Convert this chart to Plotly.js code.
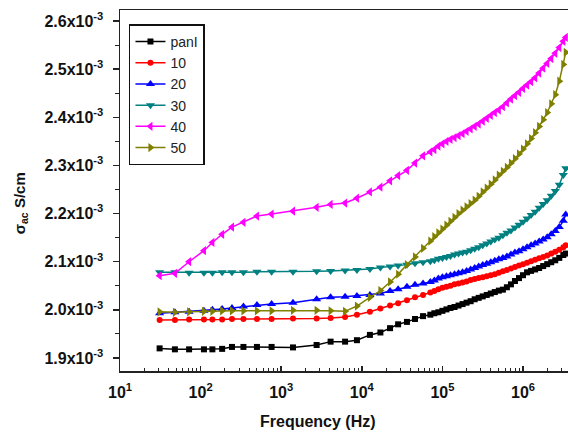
<!DOCTYPE html>
<html>
<head>
<meta charset="utf-8">
<script src="https://cdn.plot.ly/plotly-3.0.1.min.js"></script>
<style>html,body{margin:0;padding:0;background:#fff;}#chart{width:568px;height:435px;}</style>
</head>
<body>
<div id="chart"></div>
<script>
// Frequency (Hz)
const freq = [31, 48, 72, 110, 140, 185, 245, 340, 500, 760, 1400, 2750, 4100, 6200, 8700, 12600, 17000, 22400, 28200, 36300, 45700, 57500,
  70800, 79400, 89100, 100000, 112200, 125900, 141300, 158500, 177800, 199500, 223900, 251200, 281800, 316200, 354800, 398100, 446700,
  501200, 562300, 631000, 707900, 794300, 891300, 1000000, 1122000, 1259000, 1413000, 1585000, 1778000, 1995000, 2239000, 2512000,
  2818000, 3162000, 3388000];

// sigma_ac values in units of 1e-3 S/cm
const pani = [1.920, 1.918, 1.918, 1.918, 1.918, 1.919, 1.923, 1.923, 1.923, 1.923, 1.922, 1.927, 1.934, 1.934, 1.937, 1.948, 1.953, 1.962, 1.970, 1.975, 1.981, 1.987,
  1.990, 1.993, 1.995, 1.998, 2.001, 2.004, 2.006, 2.009, 2.012, 2.015, 2.018, 2.022, 2.025, 2.028, 2.031, 2.034, 2.037,
  2.040, 2.042, 2.047, 2.053, 2.060, 2.066, 2.072, 2.078, 2.081, 2.084, 2.087, 2.091, 2.095, 2.099, 2.103,
  2.108, 2.114, 2.117];
const s10 = [1.979, 1.979, 1.980, 1.980, 1.980, 1.980, 1.981, 1.981, 1.981, 1.981, 1.982, 1.982, 1.983, 1.985, 1.990, 1.996, 2.003, 2.009, 2.014, 2.020, 2.026, 2.031,
  2.036, 2.039, 2.043, 2.046, 2.048, 2.050, 2.053, 2.055, 2.057, 2.059, 2.062, 2.064, 2.066, 2.068, 2.070, 2.072, 2.074,
  2.077, 2.080, 2.083, 2.086, 2.089, 2.092, 2.095, 2.098, 2.101, 2.104, 2.107, 2.110, 2.113, 2.117, 2.121,
  2.125, 2.130, 2.134];
const s20 = [1.993, 1.995, 1.996, 1.998, 2.000, 2.002, 2.004, 2.007, 2.010, 2.012, 2.015, 2.022, 2.026, 2.027, 2.029, 2.031, 2.034, 2.039, 2.043, 2.048, 2.052, 2.055,
  2.058, 2.061, 2.065, 2.068, 2.070, 2.072, 2.074, 2.076, 2.078, 2.081, 2.084, 2.087, 2.090, 2.093, 2.096, 2.099, 2.102,
  2.105, 2.108, 2.111, 2.115, 2.119, 2.122, 2.126, 2.130, 2.134, 2.138, 2.142, 2.146, 2.151, 2.157, 2.164,
  2.172, 2.185, 2.198];
const s30 = [2.078, 2.078, 2.077, 2.077, 2.077, 2.078, 2.078, 2.078, 2.079, 2.079, 2.079, 2.080, 2.081, 2.082, 2.083, 2.085, 2.088, 2.090, 2.092, 2.094, 2.097, 2.099,
  2.101, 2.103, 2.106, 2.108, 2.110, 2.112, 2.115, 2.117, 2.119, 2.121, 2.124, 2.127, 2.130, 2.134, 2.138, 2.142, 2.146,
  2.150, 2.155, 2.160, 2.165, 2.171, 2.177, 2.183, 2.190, 2.197, 2.204, 2.212, 2.220, 2.228, 2.237, 2.247,
  2.260, 2.280, 2.294];
const s40 = [2.071, 2.076, 2.100, 2.123, 2.140, 2.157, 2.172, 2.182, 2.195, 2.199, 2.205, 2.213, 2.219, 2.222, 2.232, 2.245, 2.255, 2.268, 2.279, 2.290, 2.305, 2.320,
  2.328, 2.333, 2.340, 2.345, 2.350, 2.354, 2.358, 2.362, 2.366, 2.371, 2.376, 2.381, 2.386, 2.392, 2.398, 2.404, 2.410,
  2.415, 2.422, 2.430, 2.438, 2.445, 2.452, 2.460, 2.467, 2.474, 2.482, 2.492, 2.502, 2.512, 2.522, 2.533,
  2.545, 2.558, 2.566];
const s50 = [1.996, 1.995, 1.996, 1.997, 1.997, 1.998, 1.998, 1.998, 1.998, 1.998, 1.999, 1.999, 1.998, 1.997, 2.008, 2.026, 2.040, 2.058, 2.074, 2.094, 2.110, 2.128,
  2.143, 2.152, 2.160, 2.168, 2.176, 2.184, 2.192, 2.200, 2.207, 2.214, 2.221, 2.228, 2.236, 2.245, 2.253, 2.261, 2.270,
  2.280, 2.288, 2.296, 2.305, 2.314, 2.324, 2.334, 2.345, 2.356, 2.368, 2.381, 2.395, 2.410, 2.428, 2.447,
  2.475, 2.510, 2.535];

const seriesNames = ['panI', '10', '20', '30', '40', '50'];
const seriesData = [pani, s10, s20, s30, s40, s50];
const seriesColors = ['#000000', '#ff0000', '#0000ff', '#008080', '#ff00ff', '#808000'];
const seriesSymbols = ['square', 'circle', 'triangle-up', 'triangle-down', 'triangle-left', 'triangle-right'];

const yTickVals = [1.9, 2.0, 2.1, 2.2, 2.3, 2.4, 2.5, 2.6];
const yTickText = ['1.9x10<sup>-3</sup>', '2.0x10<sup>-3</sup>', '2.1x10<sup>-3</sup>', '2.2x10<sup>-3</sup>',
  '2.3x10<sup>-3</sup>', '2.4x10<sup>-3</sup>', '2.5x10<sup>-3</sup>', '2.6x10<sup>-3</sup>'];
const xTickVals = [10, 100, 1000, 10000, 100000, 1000000];
const xTickText = ['10<sup>1</sup>', '10<sup>2</sup>', '10<sup>3</sup>', '10<sup>4</sup>', '10<sup>5</sup>', '10<sup>6</sup>'];

const traces = seriesData.map((ys, i) => ({
  x: freq,
  y: ys,
  name: seriesNames[i],
  type: 'scatter',
  mode: 'lines+markers',
  line: {color: seriesColors[i], width: 1.5},
  marker: {color: seriesColors[i], symbol: seriesSymbols[i], size: (seriesSymbols[i] === 'square' || seriesSymbols[i] === 'circle') ? 6 : 8}
}));

const fam = 'Liberation Sans, Arial, sans-serif';

const layout = {
  width: 568, height: 435,
  margin: {l: 120, r: 0, t: 10, b: 64},
  paper_bgcolor: '#fff', plot_bgcolor: '#fff',
  showlegend: true,
  legend: {
    x: 0.02, y: 0.96, xanchor: 'left', yanchor: 'top',
    bgcolor: '#fff', bordercolor: '#111', borderwidth: 1.5,
    font: {family: fam, size: 14, color: '#222'},
    tracegroupgap: 0,
    entrywidth: 52, entrywidthmode: 'pixels'
  },
  xaxis: {
    type: 'log', range: [1, 6.558],
    tickvals: xTickVals, ticktext: xTickText,
    ticks: 'inside', ticklen: 5, tickwidth: 1.5, tickcolor: '#222',
    minor: {ticks: 'inside', ticklen: 3, tickwidth: 1, tickcolor: '#222', dtick: 'D1'},
    showline: true, linecolor: '#222', linewidth: 1.5, mirror: true,
    showgrid: false, zeroline: false,
    ticklabelstandoff: 6,
    tickfont: {family: fam, size: 16, color: '#111', weight: 'bold'}
  },
  yaxis: {
    range: [1.873, 2.623],
    tickvals: yTickVals, ticktext: yTickText,
    ticks: 'outside', ticklen: 6, tickwidth: 1.5, tickcolor: '#222',
    minor: {ticks: 'outside', ticklen: 4, tickwidth: 1, tickcolor: '#222', dtick: 0.05},
    showline: true, linecolor: '#222', linewidth: 1.5,
    showgrid: false, zeroline: false,
    ticklabelstandoff: 6,
    tickfont: {family: fam, size: 16, color: '#111', weight: 'bold'}
  },
  annotations: [
    {text: '<b>Frequency (Hz)</b>', xref: 'paper', yref: 'paper', x: 0.443, y: -0.139,
     xanchor: 'center', yanchor: 'middle', showarrow: false,
     font: {family: fam, size: 16, color: '#111'}},
    {text: '<b>σ<sub>ac</sub> S/cm</b>', xref: 'paper', yref: 'paper', x: -0.223, y: 0.465,
     xanchor: 'center', yanchor: 'middle', textangle: -90, showarrow: false,
     font: {family: fam, size: 15, color: '#111'}}
  ]
};

Plotly.newPlot('chart', traces, layout, {displayModeBar: false, staticPlot: true});
</script>
</body>
</html>
